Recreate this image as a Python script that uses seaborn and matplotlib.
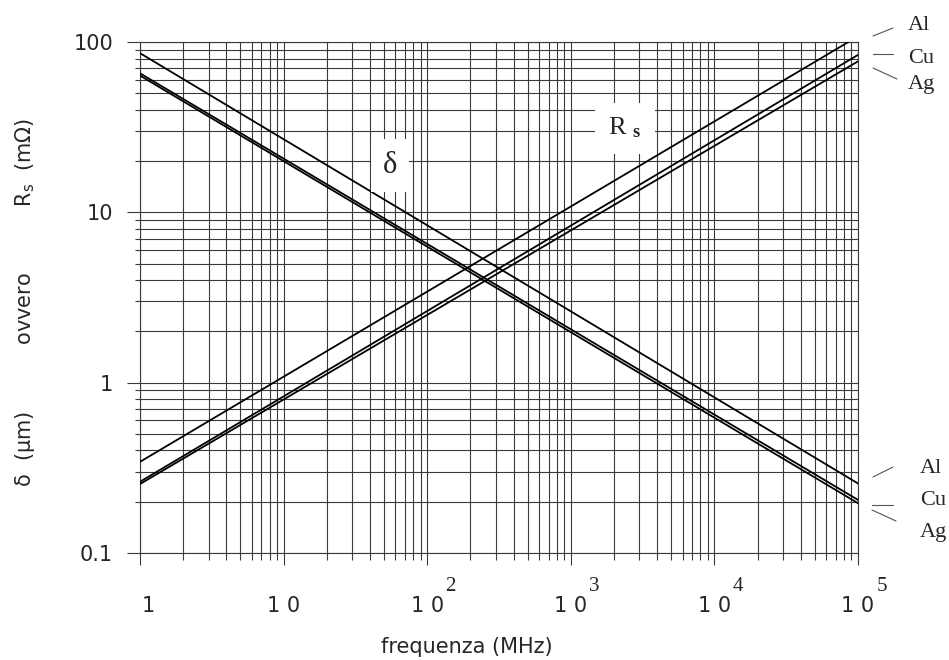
import numpy as np
import pandas as pd
import matplotlib
matplotlib.use("Agg")
import matplotlib.pyplot as plt
import matplotlib.transforms as mtransforms
from matplotlib.ticker import FixedLocator, NullFormatter
import seaborn as sns

# ---- data ----
freq_mhz = [1.0, 1.0e5]
delta_al = [86.0, 0.256]
delta_cu = [65.5, 0.205]
delta_ag = [63.5, 0.196]
rs_al = [0.343, 108.0]
rs_cu = [0.262, 84.0]
rs_ag = [0.254, 77.0]
metals = ["Al", "Cu", "Ag"]
x_major = [1, 10, 100, 1000, 10000, 100000]
x_ticklabels = ["1", "1 0", "1 0", "1 0", "1 0", "1 0"]
x_exponents = ["", "", "2", "3", "4", "5"]
y_major = [0.1, 1, 10, 100]
y_ticklabels = ["0.1", "1", "10", "100"]

curves = {
    "delta_Al": delta_al, "delta_Cu": delta_cu, "delta_Ag": delta_ag,
    "Rs_Al": rs_al, "Rs_Cu": rs_cu, "Rs_Ag": rs_ag,
}
rows = []
for name, vals in curves.items():
    for f, v in zip(freq_mhz, vals):
        rows.append({"curve": name, "freq": f, "value": v})
df = pd.DataFrame(rows)

sns.set_style("white")
plt.rcParams["font.family"] = ["DejaVu Sans"]
plt.rcParams["mathtext.fontset"] = "custom"
plt.rcParams["mathtext.rm"] = "Liberation Serif"
plt.rcParams["mathtext.bf"] = "Liberation Serif:bold"
plt.rcParams["mathtext.it"] = "Liberation Serif:italic"
plt.rcParams["mathtext.sf"] = "DejaVu Sans"

GRID = "#3a3a3a"
fig = plt.figure(figsize=(9.49, 6.6), dpi=100)
ax = fig.add_axes([140 / 949, 107 / 660, 718 / 949, 511 / 660])

sns.lineplot(data=df, x="freq", y="value", units="curve", estimator=None,
             color="black", linewidth=1.3, ax=ax, legend=False, zorder=3)
ax.set_xscale("log")
ax.set_yscale("log")
ax.set_xlim(1, 1e5)
ax.set_ylim(0.1, 100)

# ticks / grid
ax.xaxis.set_major_locator(FixedLocator(x_major))
ax.xaxis.set_minor_locator(FixedLocator([m * 10 ** k for k in range(5) for m in range(2, 10)]))
ax.yaxis.set_major_locator(FixedLocator(y_major))
ax.yaxis.set_minor_locator(FixedLocator([m * 10.0 ** k for k in range(-1, 2) for m in range(2, 10)]))
ax.xaxis.set_minor_formatter(NullFormatter())
ax.yaxis.set_minor_formatter(NullFormatter())
ax.set_xticks(x_major, x_ticklabels)
ax.set_yticks(y_major, y_ticklabels)
ax.grid(True, which="both", color=GRID, linewidth=0.8)
ax.set_axisbelow(True)
ax.tick_params(axis="x", which="both", bottom=True, top=False)
ax.tick_params(axis="y", which="both", left=True, right=False)
ax.tick_params(axis="x", which="major", direction="out", length=8.6, width=0.8,
               color=GRID, pad=22, labelsize=15)
ax.tick_params(axis="x", which="minor", direction="out", length=5, width=0.8, color=GRID)
ax.tick_params(axis="y", which="major", direction="out", length=9.4, width=0.8,
               color=GRID, pad=10, labelsize=15)
ax.tick_params(axis="y", which="minor", direction="out", length=3.6, width=0.8, color=GRID)
for s in ax.spines.values():
    s.set_color(GRID)
    s.set_linewidth(0.8)

# shift the "1" label a bit to the right
lab0 = ax.get_xticklabels()[0]
lab0.set_transform(lab0.get_transform() + mtransforms.ScaledTranslation(8 / 100, 0, fig.dpi_scale_trans))

# exponents
for xv, ex in zip(x_major, x_exponents):
    if ex:
        ax.annotate(ex, xy=(xv, -0.066), xycoords=("data", "axes fraction"),
                    xytext=(17, 0), textcoords="offset points", ha="center", va="center",
                    fontsize=15, family="Liberation Serif", annotation_clip=False)

ax.set_xlabel("frequenza (MHz)", fontsize=15, va="center")
ax.xaxis.set_label_coords(0.455, -0.184)
ax.set_ylabel(r"δ  (μm)          ovvero          R$_{\mathsf{s}}$  (mΩ)", fontsize=15, va="center")
ax.yaxis.set_label_coords(-0.160, 0.491)

# curve labels
ax.text(55, 18.9, "δ", fontsize=22, family="Liberation Serif", ha="center", va="center",
        zorder=5, bbox=dict(boxstyle="square,pad=0.4", fc="white", ec="none"))
ax.text(2384, 31.2, r"R $_{\mathbf{s}}$", fontsize=19, family="Liberation Serif",
        ha="center", va="center", zorder=5,
        bbox=dict(boxstyle="square,pad=0.5", fc="white", ec="none"))

# metal labels at right (pixel positions converted to axes fraction)
def fx(px):
    return (px - 140) / 718

def fy(py):
    return (553 - py) / 511

top_leaders = [((873, 36), (893, 28)), ((873, 54), (893, 54)), ((873, 68), (897, 79))]
top_text = [(908, 30), (908, 63), (908, 89)]
bot_leaders = [((873, 477), (893, 467)), ((872, 505), (893, 505)), ((872, 510), (896, 521))]
bot_text = [(920, 473), (920, 505), (920, 537)]
for leaders, texts in ((top_leaders, top_text), (bot_leaders, bot_text)):
    for m, (p0, p1), (tx, ty) in zip(metals, leaders, texts):
        ax.plot([fx(p0[0]), fx(p1[0])], [fy(p0[1]), fy(p1[1])], transform=ax.transAxes,
                color="#555555", linewidth=0.8, clip_on=False)
        ax.text(fx(tx), fy(ty), m, transform=ax.transAxes, fontsize=16,
                family="Liberation Serif", ha="left", va="baseline")

fig.savefig("out.png", dpi=100)
